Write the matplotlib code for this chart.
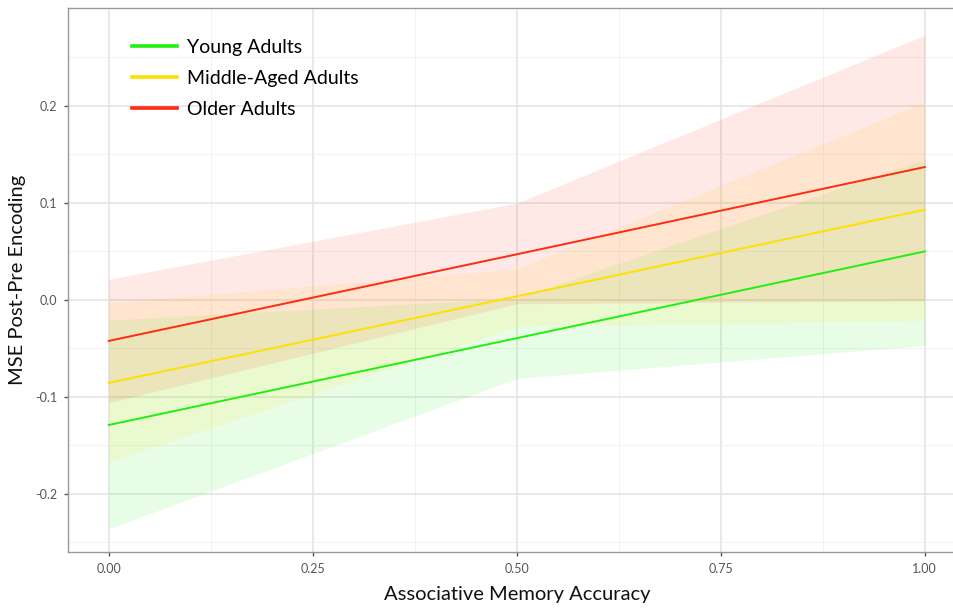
import matplotlib
matplotlib.use("Agg")
import matplotlib.pyplot as plt
import numpy as np

plt.rcParams['font.family'] = ['Lato', 'DejaVu Sans']

groups = ["Young Adults", "Middle-Aged Adults", "Older Adults"]
colors = ["#22EE11", "#FFE000", "#FF2A10"]
x_pts = [0.0, 0.5, 1.0]
fit = {
    "Young Adults": [-0.129, -0.0395, 0.050],
    "Middle-Aged Adults": [-0.0856, 0.0036, 0.093],
    "Older Adults": [-0.0423, 0.047, 0.137],
}
upper = {
    "Young Adults": [-0.021, 0.0017, 0.145],
    "Middle-Aged Adults": [-0.003, 0.032, 0.204],
    "Older Adults": [0.0213, 0.0997, 0.273],
}
lower = {
    "Young Adults": [-0.236, -0.081, -0.047],
    "Middle-Aged Adults": [-0.167, -0.0275, -0.021],
    "Older Adults": [-0.106, -0.004, -0.001],
}
xticks = [0.0, 0.25, 0.5, 0.75, 1.0]
xticklabels = ["0.00", "0.25", "0.50", "0.75", "1.00"]
yticks = [-0.2, -0.1, 0.0, 0.1, 0.2]
yticklabels = ["-0.2", "-0.1", "0.0", "0.1", "0.2"]

W, H = 954, 608
fig = plt.figure(figsize=(W / 100, H / 100), dpi=100)
left, right, top, bottom = 68, 965.6, 8, 552
ax = fig.add_axes([left / W, 1 - bottom / H, (right - left) / W, (bottom - top) / H])

for g, c in zip(groups, colors):
    ax.fill_between(x_pts, lower[g], upper[g], color=c, alpha=0.1, linewidth=0, zorder=2)
for g, c in zip(groups, colors):
    ax.plot(x_pts, fit[g], color=c, linewidth=1.4, zorder=3, label=g)

ax.set_xticks(xticks)
ax.set_xticklabels(xticklabels)
ax.set_yticks(yticks)
ax.set_yticklabels(yticklabels)
ax.set_xticks([0.125, 0.375, 0.625, 0.875], minor=True)
ax.set_yticks([-0.25, -0.15, -0.05, 0.05, 0.15, 0.25], minor=True)
ax.set_xlim(-0.05, 1.05)
ax.set_ylim(-0.26, 0.301)
ax.grid(which='major', color='#E3E3E3', linewidth=1.1, zorder=0)
ax.grid(which='minor', color='#F0F0F0', linewidth=0.6, zorder=0)
ax.set_axisbelow(True)
ax.tick_params(which='minor', length=0)
ax.tick_params(which='major', length=3, width=1, color='#555555',
               labelcolor='#555555', labelsize=9, pad=5)
for s in ax.spines.values():
    s.set_color('#999999')
    s.set_linewidth(1.0)

ax.set_xlabel("Associative Memory Accuracy", fontsize=14.5, color='#111111', labelpad=8)
ax.set_ylabel("MSE Post-Pre Encoding", fontsize=14.5, color='#111111', labelpad=6)

leg = ax.legend(loc='upper left', bbox_to_anchor=(0.052, 0.975), frameon=False,
                fontsize=14, handlelength=2.3, handletextpad=0.5, labelspacing=0.72)
for h in leg.get_lines():
    h.set_linewidth(2.6)

fig.savefig("out.png", dpi=100)
